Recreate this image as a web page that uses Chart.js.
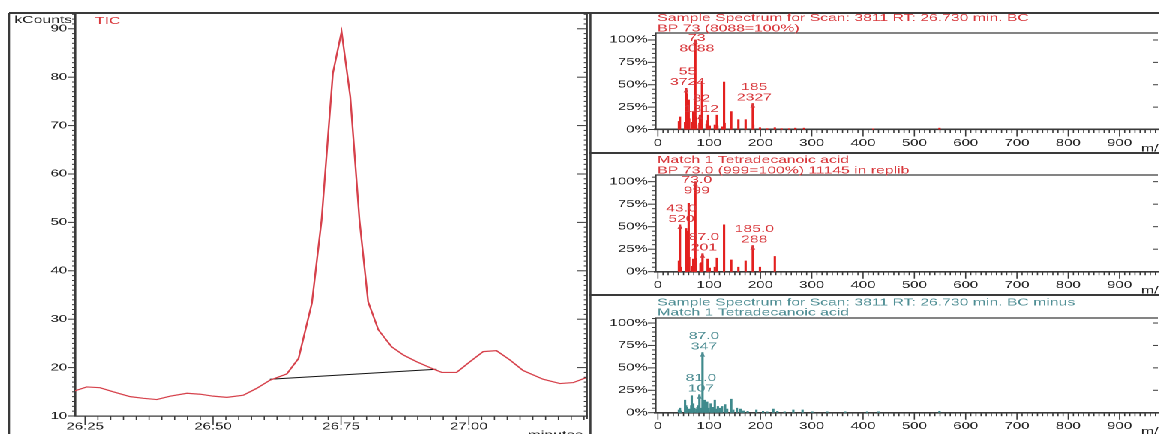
<!DOCTYPE html>
<html>
<head>
<meta charset="utf-8">
<script src="https://cdn.jsdelivr.net/npm/chart.js@4.4.1/dist/chart.umd.min.js"></script>
<style>
  html, body { margin: 0; padding: 0; background: #fff; overflow: hidden; }
  /* the original screenshot is stretched sideways, so the whole stage is too */
  #stage { position: absolute; left: 0; top: 0; width: 773px; height: 434px; transform: scaleX(1.5); transform-origin: 0 0; }
  #stage canvas { position: absolute; }
</style>
</head>
<body>
<div id="stage">
  <canvas id="tic" width="393" height="434" style="left:0;top:0"></canvas>
  <canvas id="spec1" width="380" height="141" style="left:393px;top:11px"></canvas>
  <canvas id="spec2" width="380" height="145" style="left:393px;top:150px"></canvas>
  <canvas id="spec3" width="380" height="141" style="left:393px;top:293px"></canvas>
</div>
<script>
// TIC chromatogram
const ticTimes = [26.230, 26.253, 26.279, 26.305, 26.338, 26.364, 26.390, 26.416, 26.449, 26.475,
    26.500, 26.527, 26.559, 26.585, 26.611, 26.644, 26.667, 26.693, 26.712, 26.734,
    26.751, 26.768, 26.786, 26.803, 26.823, 26.849, 26.872, 26.898, 26.924, 26.947,
    26.976, 27.002, 27.028, 27.054, 27.080, 27.106, 27.145, 27.178, 27.204, 27.231];
const ticCounts = [15.2, 16.0, 15.85, 15.0, 14.0, 13.65, 13.4, 14.1, 14.7, 14.5,
    14.1, 13.85, 14.3, 15.7, 17.4, 18.7, 21.9, 33.3, 50.5, 80.8,
    89.4, 76.0, 50.5, 33.6, 27.8, 24.3, 22.6, 21.2, 20.0, 19.0,
    19.0, 21.2, 23.3, 23.5, 21.6, 19.4, 17.6, 16.7, 16.9, 18.0];
const baseTimes = [26.611, 26.937];
const baseCounts = [17.6, 19.65];
const timeTicks = [26.25, 26.50, 26.75, 27.00];
const countTicks = [10, 20, 30, 40, 50, 60, 70, 80, 90];

// spectra (m/z, % of base peak)
const mzSample = [41, 43, 53, 55, 56, 57, 59, 60, 61, 67, 69, 71, 73, 74, 75, 81, 82, 83, 86, 95,
    97, 98, 101, 111, 115, 116, 125, 129, 130, 143, 157, 171, 185, 186, 199, 213, 228, 241, 256, 268,
    285, 420, 549];
const pctSample = [9, 14, 8, 46, 12, 40, 10, 33, 12, 8, 20, 14, 100, 14, 5, 7, 16, 12, 54, 6,
    10, 16, 4, 5, 16, 4, 3, 53, 7, 20, 11, 11, 29, 5, 2, 1, 2, 1, 1, 1.5,
    1.5, 0.8, 1.5];
const mzLibrary = [41, 42, 43, 45, 55, 56, 57, 59, 60, 61, 67, 69, 70, 71, 73, 74, 83, 85, 87, 97,
    98, 101, 111, 115, 129, 143, 157, 171, 185, 199, 228];
const pctLibrary = [12, 4, 52, 5, 48, 10, 45, 8, 76, 16, 6, 14, 5, 12, 100, 15, 9, 10, 20, 14,
    8, 4, 5, 15, 52, 13, 5, 12, 29, 5, 17];
const mzMinus = [41, 43, 45, 53, 55, 57, 59, 63, 65, 66, 67, 69, 71, 75, 77, 79, 81, 85, 87, 89,
    91, 93, 96, 99, 103, 105, 107, 111, 113, 117, 121, 125, 131, 135, 143, 147, 154, 161, 167, 175,
    192, 205, 213, 225, 233, 247, 264, 282, 301, 330, 365, 408, 430, 549];
const pctMinus = [3, 5, 2, 14, 8, 6, 4, 4, 8, 19, 6, 10, 5, 4, 6, 8, 20, 5, 67, 6,
    14, 4, 12, 5, 10, 4, 6, 14, 4, 7, 5, 7, 9, 4, 15, 3, 5, 4, 2, 1.5,
    3, 1.5, 1, 4, 1.5, 1, 3, 3, 1, 1, 1, 1, 1, 1.5];

const mzTicks = [0, 100, 200, 300, 400, 500, 600, 700, 800, 900];
const pctTicks = [0, 25, 50, 75, 100];

// labelled peaks
const peaksSample = [55, 73, 82, 185];
const peaksSampleName = ["55", "73", "82", "185"];
const peaksSampleCount = ["3724", "8088", "1312", "2327"];
const peaksLibrary = [43, 73, 87, 185];
const peaksLibraryName = ["43.0", "73.0", "87.0", "185.0"];
const peaksLibraryCount = ["520", "999", "201", "288"];
const peaksMinus = [87, 81];
const peaksMinusName = ["87.0", "81.0"];
const peaksMinusCount = ["347", "107"];

const FONT = "'Liberation Sans', Arial, sans-serif";
const AXIS = "#3a3a3a";
const RED = "#d8383c";
const TEAL = "#4f8e94";

Chart.defaults.font.family = FONT;
Chart.defaults.font.size = 10;
Chart.defaults.color = "#222";

function drawLine(ctx, x1, y1, x2, y2, w) {
    ctx.lineWidth = w;
    ctx.beginPath();
    ctx.moveTo(x1, y1);
    ctx.lineTo(x2, y2);
    ctx.stroke();
}

const decor = {
    id: "decor",
    afterDraw(chart, args, opts) {
        const ctx = chart.ctx;
        const area = chart.chartArea;
        ctx.save();
        ctx.strokeStyle = AXIS;

        (opts.lines || []).forEach(function (l) {
            drawLine(ctx, l[0], l[1], l[2], l[3], l[4]);
        });
        if (opts.boxTop) drawLine(ctx, area.left, area.top, area.right, area.top, opts.boxTop);
        if (opts.boxRight) drawLine(ctx, area.right, area.top, area.right, area.bottom + 3, opts.boxRight);

        // tick marks, minor and major
        (opts.ticks || []).forEach(function (t) {
            const scale = chart.scales[t.scale];
            const first = Math.ceil(scale.min / t.step - 1e-6);
            for (let i = first; i * t.step <= scale.max + 1e-6; i++) {
                const v = i * t.step;
                const p = scale.getPixelForValue(v);
                const r = v / t.major;
                const len = Math.abs(r - Math.round(r)) < 1e-6 ? t.majorLen : t.len;
                if (t.edge === "left") drawLine(ctx, area.left, p, area.left - len, p, 1);
                else if (t.edge === "right") drawLine(ctx, area.right, p, area.right - len, p, 1);
                else drawLine(ctx, p, area.bottom, p, area.bottom + len, 0.8);
            }
        });

        // peak arrows and labels
        if (opts.peaks) {
            const p = opts.peaks;
            const pts = chart.data.datasets[0].data;
            ctx.fillStyle = p.color;
            ctx.font = "10.5px " + FONT;
            ctx.textAlign = "center";
            ctx.textBaseline = "middle";
            p.mz.forEach(function (mz, i) {
                const pt = pts.find(d => d.x === mz);
                const x = chart.scales.x.getPixelForValue(mz);
                const y = chart.scales.y.getPixelForValue(pt.y);
                ctx.beginPath();
                ctx.moveTo(x, y - 0.5);
                ctx.lineTo(x - 1.7, y + 4);
                ctx.lineTo(x + 1.7, y + 4);
                ctx.closePath();
                ctx.fill();
                let y1 = y - 16.5;
                if (y1 < area.top + 5.3) y1 = area.top + 5.3;
                ctx.fillText(p.name[i], x + 1, y1);
                ctx.fillText(p.count[i], x + 1, y1 + 10.5);
            });
        }

        (opts.texts || []).forEach(function (t) {
            ctx.fillStyle = t.color || "#222";
            ctx.font = (t.size || 10.5) + "px " + FONT;
            ctx.textAlign = t.align || "left";
            ctx.textBaseline = t.baseline || "middle";
            ctx.fillText(t.text, t.x, t.y);
        });
        ctx.restore();
    }
};

new Chart(document.getElementById("tic"), {
    type: "line",
    data: {
        datasets: [{
            data: ticTimes.map((t, i) => ({ x: t, y: ticCounts[i] })),
            borderColor: "#d6424c",
            borderWidth: 1.2,
            pointRadius: 0,
            tension: 0
        }, {
            data: baseTimes.map((t, i) => ({ x: t, y: baseCounts[i] })),
            borderColor: "#111",
            borderWidth: 1,
            pointRadius: 0,
            tension: 0
        }]
    },
    options: {
        responsive: false,
        devicePixelRatio: 2,
        animation: false,
        events: [],
        layout: { padding: { left: 0, right: 1.7, top: 13, bottom: 0 } },
        plugins: {
            legend: { display: false },
            tooltip: { enabled: false },
            decor: {
                lines: [[6, 13, 393, 13, 2], [6, 13, 6, 434, 1.3]],
                boxRight: 1.3,
                ticks: [
                    { scale: "y", edge: "left", step: 1, len: 2, major: 10, majorLen: 5 },
                    { scale: "y", edge: "right", step: 1, len: 2, major: 10, majorLen: 6.5 },
                    { scale: "x", edge: "bottom", step: 0.025, len: 4, major: 0.25, majorLen: 9 }
                ],
                texts: [
                    { text: "kCounts", x: 48, y: 20, align: "right", size: 10.5 },
                    { text: "TIC", x: 63.3, y: 21, color: RED },
                    { text: "minutes", x: 388.7, y: 430, align: "right", baseline: "top" }
                ]
            }
        },
        scales: {
            x: {
                type: "linear",
                min: 26.2305,
                max: 27.2305,
                grid: { display: false, drawTicks: false },
                border: { color: AXIS, width: 1.3 },
                ticks: { padding: 4.7, autoSkip: false, maxRotation: 0, callback: v => v.toFixed(2) },
                afterBuildTicks: s => { s.ticks = timeTicks.map(v => ({ value: v })); },
                afterFit: s => { s.height = 18; }
            },
            y: {
                min: 10,
                max: 93.26,
                grid: { display: false, drawTicks: false },
                border: { color: AXIS, width: 1.3 },
                ticks: { padding: 5.3, autoSkip: false },
                afterBuildTicks: s => { s.ticks = countTicks.map(v => ({ value: v })); },
                afterFit: s => { s.width = 50; }
            }
        }
    },
    plugins: [decor]
});

function spectrum(id, mz, pct, cfg) {
    return new Chart(document.getElementById(id), {
        type: "bar",
        data: {
            datasets: [{
                data: mz.map((m, i) => ({ x: m, y: pct[i] })),
                backgroundColor: cfg.bar,
                barThickness: 0.9,
                borderWidth: 0
            }]
        },
        options: {
            responsive: false,
            devicePixelRatio: 2,
            animation: false,
            events: [],
            layout: { padding: { left: 0, right: 1, top: cfg.top, bottom: 0 } },
            plugins: {
                legend: { display: false },
                tooltip: { enabled: false },
                decor: {
                    lines: [[0.7, cfg.frameY, 0.7, cfg.height, 1.3], [0, cfg.frameY, 380, cfg.frameY, 2]],
                    boxTop: 1.3,
                    ticks: [
                        { scale: "y", edge: "left", step: 5, len: 2, major: 25, majorLen: 5 },
                        { scale: "y", edge: "right", step: 25, len: 3, major: 25, majorLen: 3 },
                        { scale: "x", edge: "bottom", step: 10, len: 3.5, major: 100, majorLen: 7 }
                    ],
                    peaks: cfg.peaks,
                    texts: [
                        { text: cfg.title[0], x: 45.3, y: cfg.titleY[0], color: cfg.text },
                        { text: cfg.title[1], x: 45.3, y: cfg.titleY[1], color: cfg.text },
                        { text: "m/z", x: 367.8, y: cfg.height - cfg.axisH + 19 }
                    ]
                }
            },
            scales: {
                x: {
                    type: "linear",
                    offset: false,
                    min: -4.9,
                    max: 974.7,
                    grid: { display: false, drawTicks: false },
                    border: { color: AXIS, width: 1.6 },
                    ticks: { padding: 7.5, autoSkip: false, maxRotation: 0, callback: v => String(v) },
                    afterBuildTicks: s => { s.ticks = mzTicks.map(v => ({ value: v })); },
                    afterFit: s => { s.height = cfg.axisH; }
                },
                y: {
                    min: 0,
                    max: cfg.yMax,
                    grid: { display: false, drawTicks: false },
                    border: { color: AXIS, width: 1.3 },
                    ticks: { padding: 5, autoSkip: false, callback: v => v + "%" },
                    afterBuildTicks: s => { s.ticks = pctTicks.map(v => ({ value: v })); },
                    afterFit: s => { s.width = 44; }
                }
            }
        },
        plugins: [decor]
    });
}

spectrum("spec1", mzSample, pctSample, {
    bar: "#e3201f", text: RED, height: 141, top: 22, frameY: 2, axisH: 22.5, yMax: 107.8,
    title: ["Sample Spectrum for Scan: 3811 RT: 26.730 min. BC", "BP 73 (8088=100%)"],
    titleY: [7, 17.5],
    peaks: { mz: peaksSample, name: peaksSampleName, count: peaksSampleCount, color: RED }
});

spectrum("spec2", mzLibrary, pctLibrary, {
    bar: "#e3201f", text: RED, height: 145, top: 25, frameY: 3, axisH: 23.3, yMax: 107.4,
    title: ["Match 1 Tetradecanoic acid", "BP 73.0 (999=100%) 11145 in replib"],
    titleY: [10, 20.7],
    peaks: { mz: peaksLibrary, name: peaksLibraryName, count: peaksLibraryCount, color: RED }
});

spectrum("spec3", mzMinus, pctMinus, {
    bar: "#3f8a8c", text: TEAL, height: 141, top: 25, frameY: 2, axisH: 21.3, yMax: 105.6,
    title: ["Sample Spectrum for Scan: 3811 RT: 26.730 min. BC minus", "Match 1 Tetradecanoic acid"],
    titleY: [9.7, 19.7],
    peaks: { mz: peaksMinus, name: peaksMinusName, count: peaksMinusCount, color: TEAL }
});
</script>
</body>
</html>
